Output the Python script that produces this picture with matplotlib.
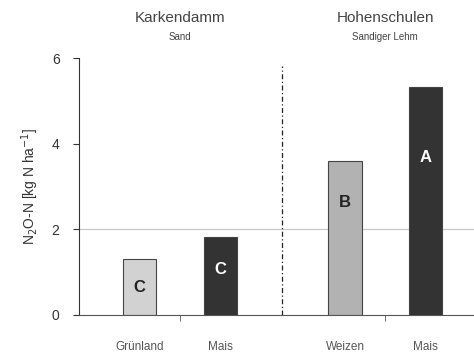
import matplotlib.pyplot as plt

# N2O-N emissions per site and crop
sites = ["Karkendamm", "Hohenschulen"]
soils = ["Sand", "Sandiger Lehm"]
crops = ["Grünland", "Mais", "Weizen", "Mais"]
values = [1.3, 1.82, 3.6, 5.33]
letters = ["C", "C", "B", "A"]
colors = ["#d2d2d2", "#333333", "#b2b2b2", "#333333"]
letter_colors = ["#222222", "white", "#222222", "white"]

plt.rcParams['font.family'] = ['Liberation Sans', 'DejaVu Sans']

fig = plt.figure(figsize=(4.74, 3.53), dpi=100)
ax = fig.add_axes([79/474, 38/353, 395/474, 257/353])

xpos = [0.75, 1.75, 3.3, 4.3]
group_mid = [1.25, 3.8]
# where the letter sits inside each bar (fraction of bar height)
letter_frac = [0.49, 0.58, 0.73, 0.69]

ax.axhline(2, color="#c8c8c8", lw=0.9, zorder=0)
ax.bar(xpos, values, width=0.41, color=colors, edgecolor="#444444", linewidth=0.8, zorder=2)
for x, v, l, c, f in zip(xpos, values, letters, letter_colors, letter_frac):
    ax.text(x, v * f, l, ha="center", va="center",
            fontsize=12, fontweight="bold", color=c, zorder=3)

ax.axvline(2.52, color="#222222", lw=0.9, ls=(0, (4, 2, 1, 2)), ymax=0.97)

ax.set_xlim(0, 4.9)
ax.set_ylim(0, 6)
ax.set_yticks([0, 2, 4, 6])
ax.tick_params(axis="y", length=4, labelsize=10, colors="#333333", pad=10)
ax.set_xticks(xpos)
ax.set_xticklabels(crops)
ax.tick_params(axis="x", length=0, labelsize=8.5, colors="#555555", pad=19)
ax.set_xticks(group_mid, minor=True)
ax.tick_params(axis="x", which="minor", length=4, color="#555555")

for s in ["top", "right"]:
    ax.spines[s].set_visible(False)
ax.spines["left"].set_color("#333333")
ax.spines["bottom"].set_color("#555555")

ax.set_ylabel("N$_2$O-N [kg N ha$^{-1}$]", fontsize=10, color="#333333", labelpad=8)

for gx, site, soil in zip(group_mid, sites, soils):
    ax.text(gx, 1.155, site, transform=ax.get_xaxis_transform(), ha="center",
            va="center", fontsize=11, color="#444444")
    ax.text(gx, 1.08, soil, transform=ax.get_xaxis_transform(), ha="center",
            va="center", fontsize=7, color="#444444")

fig.savefig("out.png", dpi=100)
